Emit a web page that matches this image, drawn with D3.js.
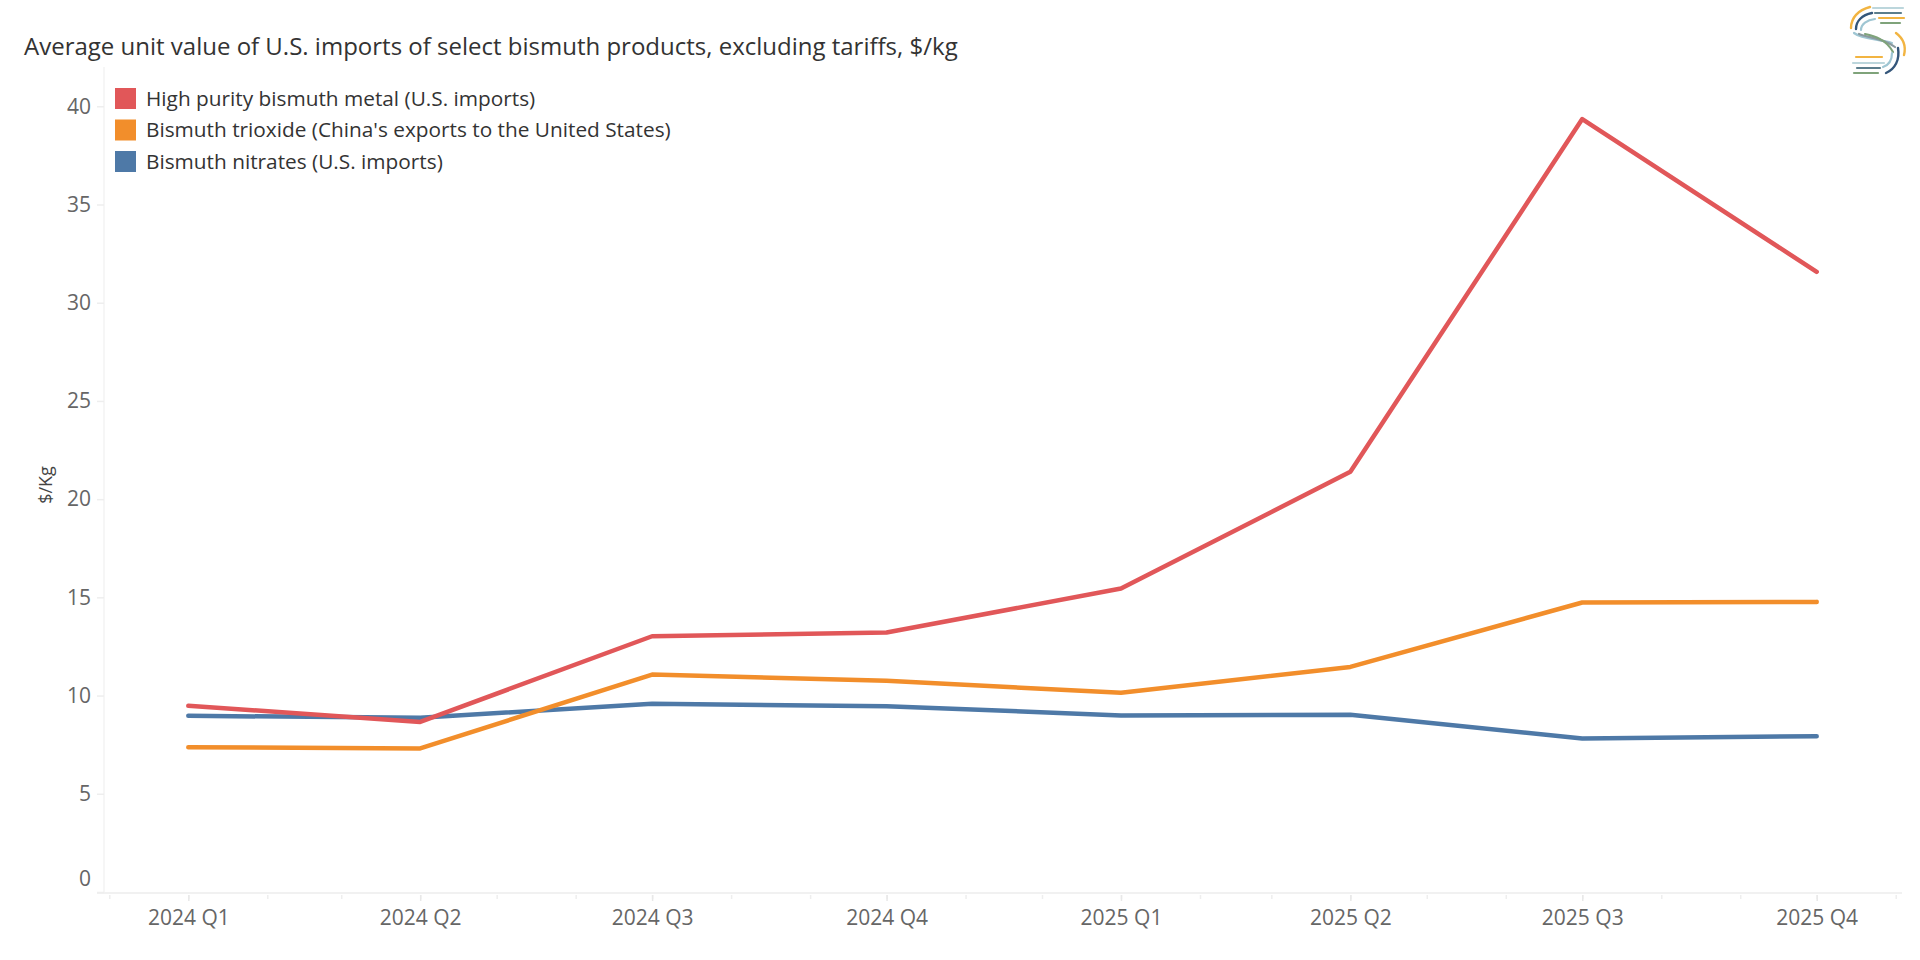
<!DOCTYPE html>
<html>
<head>
<meta charset="utf-8">
<script src="https://cdn.jsdelivr.net/npm/d3@7"></script>
<style>
  body { margin: 0; background: #fff; font-family: "Open Sans", sans-serif; }
</style>
</head>
<body>
<svg id="chart" width="1920" height="960"></svg>
<script>
// data (quarter start dates)
const quarters = ["2024-01-01", "2024-04-01", "2024-07-01", "2024-10-01",
                  "2025-01-01", "2025-04-01", "2025-07-01", "2025-10-01"];
const highPurity = [9.48, 8.66, 13.02, 13.21, 15.45, 21.39, 39.35, 31.57];
const trioxide   = [7.37, 7.31, 11.07, 10.75, 10.14, 11.46, 14.74, 14.77];
const nitrates   = [8.97, 8.87, 9.58, 9.46, 8.99, 9.02, 7.82, 7.93];
const seriesNames = [
  "High purity bismuth metal (U.S. imports)",
  "Bismuth trioxide (China's exports to the United States)",
  "Bismuth nitrates (U.S. imports)"
];
const seriesColors = ["#e15759", "#f28e2b", "#4e79a7"];
const yTicks = [0, 5, 10, 15, 20, 25, 30, 35, 40];

const title = "Average unit value of U.S. imports of select bismuth products, excluding tariffs, $/kg";

const dates = quarters.map(d => new Date(d + "T00:00:00Z"));
const series = [highPurity, trioxide, nitrates].map((vals, i) => ({
  name: seriesNames[i],
  color: seriesColors[i],
  values: vals.map((v, j) => ({date: dates[j], value: v}))
}));

const svg = d3.select("#chart");

// plot box
const plotL = 104, plotR = 1902, plotT = 67, plotB = 892;

// time axis, first/last quarter placed, then domain widened to the plot edges
const x = d3.scaleUtc().domain([dates[0], dates[dates.length - 1]]).range([188.3, 1816.7]);
x.domain([x.invert(plotL), x.invert(plotR)]).range([plotL, plotR]);

const y = d3.scaleLinear().domain([0, 42]).range([plotB, plotT]);

// axis lines
svg.append("line")
  .attr("x1", plotL).attr("x2", plotL).attr("y1", plotT).attr("y2", plotB)
  .attr("stroke", "#f3f3f3").attr("stroke-width", 1.5);
svg.append("line")
  .attr("x1", plotL - 7).attr("x2", plotR).attr("y1", plotB + 1).attr("y2", plotB + 1)
  .attr("stroke", "#ececec").attr("stroke-width", 1.5);

// y axis
const yAxis = d3.axisLeft(y).tickValues(yTicks).tickSize(7).tickPadding(6);
const yG = svg.append("g").attr("transform", `translate(${plotL},0)`).call(yAxis);
yG.select(".domain").remove();
yG.selectAll(".tick line").attr("stroke", "#eeeeee").attr("stroke-width", 1.5);
yG.selectAll(".tick text")
  .attr("fill", "#666").attr("font-size", 21).attr("font-family", "Open Sans")
  .attr("dy", d => d === 0 ? "-0.3em" : "0.32em");

// x axis: monthly minor ticks + quarterly labels
const minorAxis = d3.axisBottom(x).ticks(d3.utcMonth.every(1)).tickSize(4).tickFormat("");
const mG = svg.append("g").attr("transform", `translate(0,${plotB + 3})`).call(minorAxis);
mG.select(".domain").remove();
mG.selectAll(".tick line").attr("stroke", "#eeeeee").attr("stroke-width", 1.5);

const qFmt = d => `${d.getUTCFullYear()} Q${Math.floor(d.getUTCMonth() / 3) + 1}`;
const xAxis = d3.axisBottom(x).tickValues(dates).tickFormat(qFmt).tickSize(6).tickPadding(9);
const xG = svg.append("g").attr("transform", `translate(0,${plotB + 3})`).call(xAxis);
xG.select(".domain").remove();
xG.selectAll(".tick line").attr("stroke", "#e8e8e8").attr("stroke-width", 1.5);
xG.selectAll(".tick text")
  .attr("fill", "#666").attr("font-size", 21).attr("font-family", "Open Sans");

// y axis title
svg.append("text")
  .attr("transform", `translate(52,485) rotate(-90)`)
  .attr("text-anchor", "middle")
  .attr("font-size", 18).attr("fill", "#444")
  .text("$/Kg");

// lines
const line = d3.line().x(d => x(d.date)).y(d => y(d.value));
svg.append("g").selectAll("path")
  .data(series.slice().reverse())
  .join("path")
  .attr("d", d => line(d.values))
  .attr("fill", "none")
  .attr("stroke", d => d.color)
  .attr("stroke-width", 4.5)
  .attr("stroke-linejoin", "round")
  .attr("stroke-linecap", "round");

// legend
const lg = svg.append("g").attr("transform", "translate(115,88)");
const item = lg.selectAll("g").data(series).join("g")
  .attr("transform", (d, i) => `translate(0,${i * 31.5})`);
item.append("rect").attr("width", 21).attr("height", 21)
  .attr("fill", d => d.color);
item.append("text").attr("x", 31).attr("y", 10.5).attr("dy", "0.35em")
  .attr("font-size", 20.8).attr("fill", "#333")
  .text(d => d.name);

// title
svg.append("text")
  .attr("x", 24).attr("y", 55)
  .attr("font-size", 24).attr("fill", "#333")
  .text(title);

// logo (stylised S made of strokes)
const logo = svg.append("g").attr("transform", "translate(1848,3)")
  .attr("fill", "none").attr("stroke-linecap", "round");
const strokes = [
  ["M25,5 L55,5", "#bcd6dc", 2.2],
  ["M27,10 L53,10", "#5b7d8c", 2.2],
  ["M31,15 L56,15", "#f2b441", 2.2],
  ["M33,20 L52,20", "#7fa37a", 2.2],
  ["M22,4 C10,7 3,15 3,25", "#f2b441", 2.4],
  ["M24,10 C14,12 8,18 8,26", "#34567a", 2.4],
  ["M27,16 C19,17 13,21 13,27", "#9fc6d3", 2.2],
  ["M6,30 C14,36 30,36 44,40", "#9fc6d3", 2.2],
  ["M11,31 C20,35 34,34 47,44", "#8a9aa0", 2.2],
  ["M17,31 C26,33 38,36 45,49", "#7fa37a", 2.2],
  ["M48,30 C56,36 58,44 56,52", "#f2b441", 2.4],
  ["M50,45 C52,57 47,66 38,70", "#34567a", 2.4],
  ["M44,50 C44,58 41,62 35,64", "#9fc6d3", 2.2],
  ["M8,54 L34,54", "#f2b441", 2.2],
  ["M5,60 L36,60", "#bcd6dc", 2.2],
  ["M9,65 L32,65", "#5b7d8c", 2.2],
  ["M6,70 L30,70", "#7fa37a", 2.2]
];
logo.selectAll("path").data(strokes).join("path")
  .attr("d", d => d[0]).attr("stroke", d => d[1]).attr("stroke-width", d => d[2]);
</script>
</body>
</html>
